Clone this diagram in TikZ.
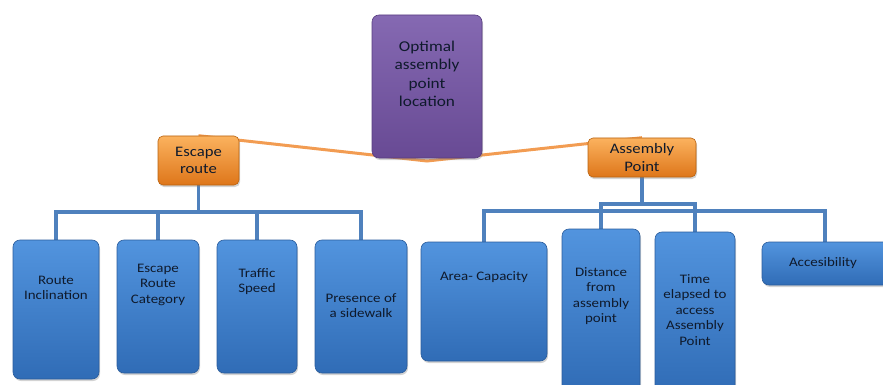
\documentclass[tikz,border=0pt]{standalone}
\usepackage{fontspec}
\setmainfont{Carlito}[FakeStretch=1.15]
\usetikzlibrary{shadows,backgrounds}
\definecolor{bluetop}{HTML}{5294DE}
\definecolor{bluemid}{HTML}{3E7ECD}
\definecolor{bluebot}{HTML}{306CB6}
\definecolor{blueline}{HTML}{2A5C9C}
\definecolor{purtop}{HTML}{8569B2}
\definecolor{purbot}{HTML}{684A94}
\definecolor{purline}{HTML}{583E80}
\definecolor{ortop}{HTML}{FBB25E}
\definecolor{ormid}{HTML}{F7962F}
\definecolor{orbot}{HTML}{DE761A}
\definecolor{orline}{HTML}{B8620F}
\definecolor{treecol}{HTML}{4F81BD}
\definecolor{linkcol}{HTML}{F29C52}
\definecolor{inkcol}{HTML}{0F1A2C}

\begin{document}
\begin{tikzpicture}[x=1pt,y=-1pt,every node/.style={font=\fontsize{13}{15.5}\selectfont,text=inkcol},
  card/.style={inner sep=0pt,rounded corners=7pt,line width=0.6pt,drop shadow={opacity=0.35,shadow xshift=1pt,shadow yshift=-2pt}},
  bluebox/.style={card,draw=blueline,top color=bluetop,middle color=bluemid,bottom color=bluebot},
  purplebox/.style={card,draw=purline,top color=purtop,bottom color=purbot,align=center},
  orangebox/.style={card,rounded corners=5pt,draw=orline,top color=ortop,middle color=ormid,bottom color=orbot,align=center,font=\fontsize{14.5}{17.5}\selectfont},
  boxtext/.style={align=center,inner sep=0pt},
  tree/.style={draw=treecol,line width=3.5pt},
  link/.style={draw=linkcol,line width=3pt}]
\useasboundingbox (0,0) rectangle (883,385);
\clip (0,0) rectangle (883,385);
% top of the hierarchy
\node[purplebox,minimum width=110pt,minimum height=143pt] (goal) at (427,86.5) {};
\node[boxtext,font=\fontsize{15}{18.5}\selectfont] (goal-txt) at (427,74) {Optimal\\assembly\\point\\location};
\coordinate (dip) at (427,161);
\node[orangebox,minimum width=81pt,minimum height=49pt] (escape) at (198.5,160.5) {Escape\\route};
\node[orangebox,minimum width=108pt,minimum height=39pt] (assembly) at (642,157.5) {Assembly\\Point};
% escape route criteria
\node[bluebox,minimum width=86pt,minimum height=139pt] (incl) at (56,309.5) {};
\node[bluebox,minimum width=82pt,minimum height=133pt] (categ) at (158,306.5) {};
\node[bluebox,minimum width=80pt,minimum height=133pt] (speed) at (257,306.5) {};
\node[bluebox,minimum width=92pt,minimum height=133pt] (sidewalk) at (361,306.5) {};
\node[boxtext] (incl-txt) at (56,288) {Route\\Inclination};
\node[boxtext] (categ-txt) at (158,284.5) {Escape\\Route\\Category};
\node[boxtext] (speed-txt) at (257,281.5) {Traffic\\Speed};
\node[boxtext] (sidewalk-txt) at (361,305.5) {Presence of\\a sidewalk};
% assembly point criteria
\node[bluebox,minimum width=126pt,minimum height=119pt] (area) at (484,301.5) {};
\node[bluebox,minimum width=78pt,minimum height=163pt] (dist) at (601,310.5) {};
\node[bluebox,minimum width=80pt,minimum height=160pt] (time) at (695,312) {};
\node[bluebox,minimum width=128pt,minimum height=43pt] (access) at (826,263.5) {};
\node[boxtext] (area-txt) at (484,277) {Area- Capacity};
\node[boxtext] (dist-txt) at (601,296) {Distance\\from\\assembly\\point};
\node[boxtext] (time-txt) at (695,310) {Time\\elapsed to\\access\\Assembly\\Point};
\node[boxtext] (access-txt) at (823,263) {Accesibility};
% connectors
\coordinate (lbar) at (0,212);
\coordinate (rbar) at (0,211);
\coordinate (sbar) at (0,204);
\begin{scope}[on background layer]
\draw[link] (escape.north) -- (dip) -- (assembly.north);
\draw[tree] (escape.south) -- (escape.south |- lbar);
\draw[tree] (incl.north) -- (incl.north |- lbar) -- (sidewalk.north |- lbar) -- (sidewalk.north);
\draw[tree] (categ.north) -- (categ.north |- lbar);
\draw[tree] (speed.north) -- (speed.north |- lbar);
\draw[tree] (assembly.south) -- (assembly.south |- sbar);
\draw[tree] (dist.north) -- (dist.north |- sbar) -- (time.north |- sbar) -- (time.north);
\draw[tree] (area.north) -- (area.north |- rbar) -- ([xshift=-1pt]access.north |- rbar) -- ([xshift=-1pt]access.north);
\end{scope}
\end{tikzpicture}
\end{document}
